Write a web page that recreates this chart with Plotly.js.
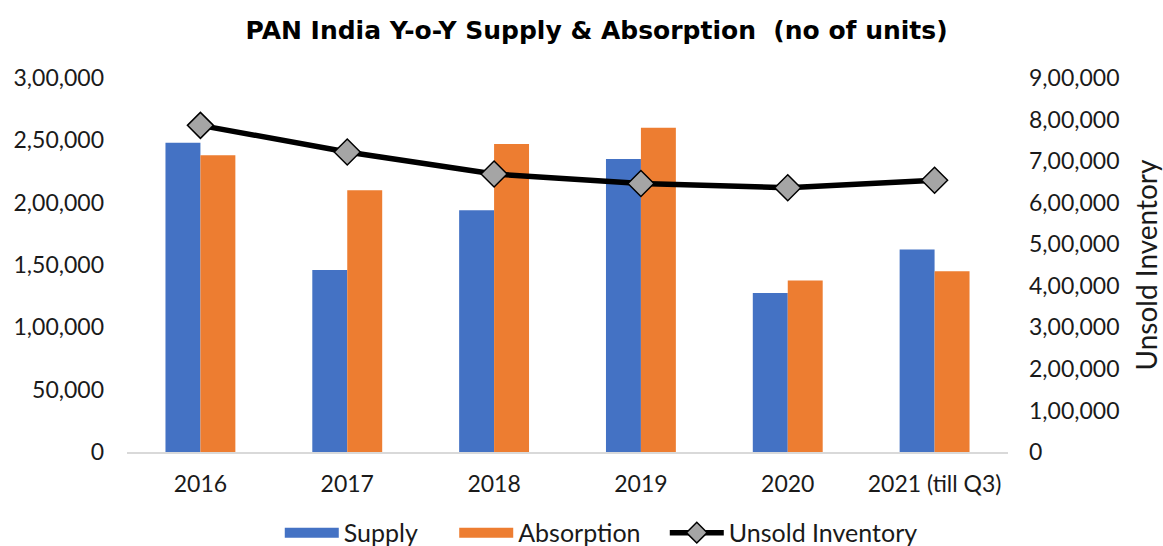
<!DOCTYPE html>
<html>
<head>
<meta charset="utf-8">
<script src="https://cdn.plot.ly/plotly-3.0.1.min.js"></script>
<style>html,body{margin:0;padding:0;background:#fff;}#chart{width:1163px;height:546px;}</style>
</head>
<body>
<div id="chart"></div>
<script>
const categories = ['2016', '2017', '2018', '2019', '2020', '2021 (till Q3)'];
const supply = [248000, 146000, 194000, 235000, 127500, 162500];
const absorption = [238000, 210000, 247000, 260000, 137500, 145000];
const unsoldInventory = [786000, 722000, 669000, 646000, 636000, 654000];
const leftTicks = [0, 50000, 100000, 150000, 200000, 250000, 300000];
const leftTickLabels = ['0', '50,000', '1,00,000', '1,50,000', '2,00,000', '2,50,000', '3,00,000'];
const rightTicks = [0, 100000, 200000, 300000, 400000, 500000, 600000, 700000, 800000, 900000];
const rightTickLabels = ['0', '1,00,000', '2,00,000', '3,00,000', '4,00,000', '5,00,000', '6,00,000', '7,00,000', '8,00,000', '9,00,000'];

const FONT = 'Century Gothic, Lato, "Open Sans", sans-serif';
const TFONT = '"DejaVu Sans", sans-serif';
const TXT = '#1a1a1a';
const BLUE = '#4472c4', ORANGE = '#ed7d31';
const PAD5 = '\u00a0\u00a0\u00a0\u00a0\u00a0';
const PAD3 = '\u00a0\u00a0\u00a0';

const traces = [
  {type: 'bar', name: 'Supply', x: categories, y: supply, marker: {color: BLUE}, yaxis: 'y', showlegend: false, legendgroup: 'supply'},
  {type: 'bar', name: 'Absorption', x: categories, y: absorption, marker: {color: ORANGE}, yaxis: 'y', showlegend: false, legendgroup: 'absorption'},
  {type: 'scatter', mode: 'lines+markers', name: 'Unsold Inventory', x: categories, y: unsoldInventory, yaxis: 'y2', legendrank: 3,
   line: {color: '#000000', width: 5.5},
   marker: {symbol: 'diamond', size: 20, color: '#a5a5a5', line: {color: '#000000', width: 1.5}}},
  // legend-only entries giving the wide coloured keys used for the bar series
  {type: 'scatter', mode: 'lines', name: 'Supply' + PAD5, x: [null], y: [null], legendgroup: 'supply', legendrank: 1, hoverinfo: 'skip',
   line: {color: BLUE, width: 13}},
  {type: 'scatter', mode: 'lines', name: 'Absorption' + PAD3, x: [null], y: [null], legendgroup: 'absorption', legendrank: 2, hoverinfo: 'skip',
   line: {color: ORANGE, width: 13}}
];

const layout = {
  width: 1163, height: 546,
  margin: {l: 127, r: 155, t: 78, b: 94},
  paper_bgcolor: '#ffffff', plot_bgcolor: '#ffffff',
  font: {family: FONT, size: 23, color: TXT},
  title: {text: 'PAN India Y-o-Y Supply & Absorption\u00a0\u00a0(no of units)', x: 0.513, xanchor: 'center', y: 0.945, yanchor: 'middle',
          font: {family: TFONT, size: 25, color: '#000000', weight: 'bold'}},
  barmode: 'group', bargap: 0.524, bargroupgap: 0,
  showlegend: true,
  legend: {orientation: 'h', x: 0.517, xanchor: 'center', xref: 'container', y: 0.024, yanchor: 'middle', yref: 'container',
           font: {family: FONT, size: 25, color: TXT}, traceorder: 'normal', itemwidth: 54, itemsizing: 'trace'},
  xaxis: {type: 'category', automargin: false, showgrid: false, showline: true, linecolor: '#d9d9d9', linewidth: 2, ticks: '',
          tickfont: {family: FONT, size: 23, color: TXT}, ticklabelstandoff: 10},
  yaxis: {range: [0, 300000], automargin: false, tickvals: leftTicks, ticktext: leftTickLabels, showgrid: false, zeroline: false, showline: false, ticks: '',
          tickfont: {family: FONT, size: 23, color: TXT}, ticklabelstandoff: 22},
  yaxis2: {range: [0, 900000], automargin: false, overlaying: 'y', side: 'right', tickvals: rightTicks, ticktext: rightTickLabels, showgrid: false, zeroline: false, showline: false, ticks: '',
           tickfont: {family: FONT, size: 23, color: TXT}, ticklabelstandoff: 20,
           title: {text: 'Unsold Inventory', font: {family: FONT, size: 28, color: TXT}, standoff: 20}}
};

Plotly.newPlot('chart', traces, layout, {displayModeBar: false, staticPlot: true});
</script>
</body>
</html>
